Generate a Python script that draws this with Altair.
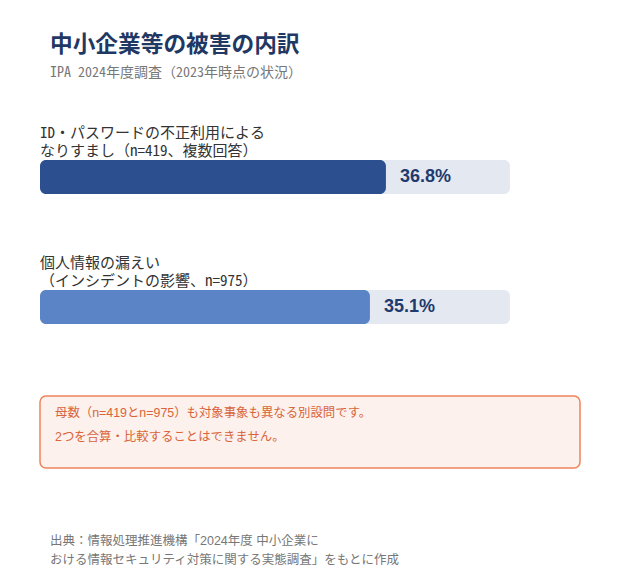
import altair as alt
import pandas as pd

# ---- data ----
categories = [
    "ID・パスワードの不正利用による\nなりすまし（n=419、複数回答）",
    "個人情報の漏えい\n（インシデントの影響、n=975）",
]
values = [36.8, 35.1]
value_labels = ["36.8%", "35.1%"]
bar_colors = ["#2c4f8f", "#5b84c7"]
axis_max = 50

title_text = "中小企業等の被害の内訳"
subtitle_text = "IPA 2024年度調査（2023年時点の状況）"
note_lines = [
    "母数（n=419とn=975）も対象事象も異なる別設問です。",
    "2つを合算・比較することはできません。",
]
source_lines = [
    "出典：情報処理推進機構「2024年度 中小企業に",
    "おける情報セキュリティ対策に関する実態調査」をもとに作成",
]

FONT = "Noto Sans CJK JP"
MONO = "Noto Sans Mono CJK JP, Noto Sans CJK JP"
MIX = "Liberation Sans, Noto Sans CJK JP"

df = pd.DataFrame({
    "cat": categories,
    "value": values,
    "label": value_labels,
    "color": bar_colors,
    "max": [axis_max] * len(categories),
    "zero": [0] * len(categories),
})

x_scale = alt.Scale(domain=[0, axis_max], range=[32, 502], nice=False, zero=True)
y_scale = alt.Scale(domain=categories, range=[152, 316], paddingInner=0.738, paddingOuter=0)
Y = alt.Y("cat:N", scale=y_scale, axis=None, sort=categories)

base = alt.Chart(df)

track = base.mark_bar(cornerRadius=6, color="#e4e8f0").encode(
    x=alt.X("zero:Q", scale=x_scale, axis=None),
    x2="max:Q",
    y=Y,
)

bars = base.mark_bar(cornerRadius=6).encode(
    x=alt.X("zero:Q", scale=x_scale, axis=None),
    x2="value:Q",
    y=Y,
    color=alt.Color("color:N", scale=None, legend=None),
)

pct = base.mark_text(
    align="left", baseline="middle", dx=14, fontSize=18, fontWeight="bold",
    font="Liberation Sans", color="#1f3a6e",
).encode(
    x=alt.X("value:Q", scale=x_scale, axis=None),
    y=Y,
    text="label:N",
)

cat_text = base.mark_text(
    align="left", baseline="bottom", dy=-36, fontSize=15, font=MONO,
    color="#333333", lineBreak="\n", lineHeight=18,
).encode(
    x=alt.value(32),
    y=Y,
    text="cat:N",
)


def text_line(txt, x, y, size, color, font, weight="normal"):
    return alt.Chart(pd.DataFrame({"t": [txt]})).mark_text(
        align="left", baseline="middle", fontSize=size, font=font,
        color=color, fontWeight=weight,
    ).encode(x=alt.value(x), y=alt.value(y), text="t:N")


title = text_line(title_text, 42, 37, 22.7, "#1f3864", FONT, "bold")
subtitle = text_line(subtitle_text, 42, 65, 14, "#777777", MONO)

note_box = alt.Chart(pd.DataFrame({"a": [0]})).mark_rect(
    fill="#fcf1ec", stroke="#ee8459", strokeWidth=1.5, cornerRadius=6,
).encode(x=alt.value(32), x2=alt.value(572), y=alt.value(388), y2=alt.value(460))

note_layers = [
    text_line(note_lines[0], 47, 405, 12.4, "#d9643a", MIX),
    text_line(note_lines[1], 47, 429, 12.4, "#d9643a", MIX),
]
src_layers = [
    text_line(source_lines[0], 42, 533, 12.5, "#777777", MIX),
    text_line(source_lines[1], 42, 552, 12.5, "#777777", MIX),
]

chart = alt.layer(
    track, bars, pct, cat_text, title, subtitle, note_box, *note_layers, *src_layers
).properties(
    width=604, height=564, autosize=alt.AutoSizeParams(type="none"), padding=0,
    background="white",
).configure_view(stroke=None)

chart.save("out.html", embed_options={"renderer": "svg", "actions": False})
